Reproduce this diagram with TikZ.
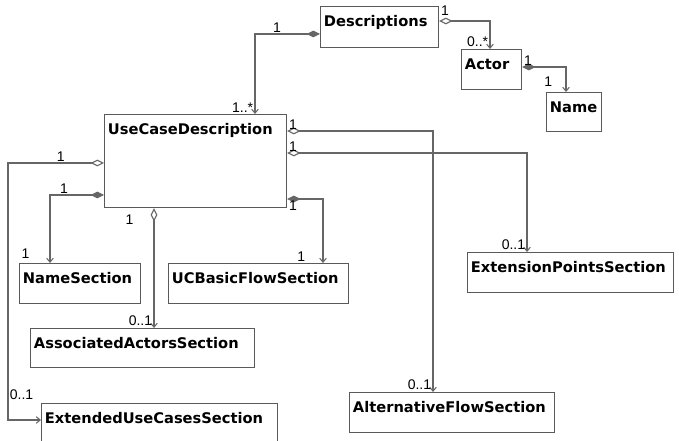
\documentclass[tikz,border=0pt]{standalone}
\usepackage{fontspec}
\usetikzlibrary{positioning, arrows.meta, calc}
\newfontfamily\umlfont{DejaVu Sans}
\newfontfamily\multfont{Liberation Sans}
\definecolor{boxgray}{HTML}{5A5A5A}
\definecolor{linegray}{HTML}{666666}

\begin{document}
\begin{tikzpicture}[
    x=0.75pt, y=-0.75pt,
    cls/.style={
      rectangle, draw=boxgray, line width=0.9pt,
      fill=white, anchor=north west, align=left,
      inner xsep=2.5pt, inner ysep=3pt, text height=12pt,
      font=\umlfont\bfseries\fontsize{11}{13}\selectfont
    },
    mult/.style={
      inner sep=1pt, font=\multfont\fontsize{10.5}{12}\selectfont
    },
    comp/.style={
      draw=linegray, line width=0.8pt,
      {Diamond[length=10pt, width=5pt]}-{Straight Barb[length=3pt, width=5pt]}
    },
    agg/.style={
      draw=linegray, line width=0.8pt,
      {Diamond[open, length=10pt, width=5pt, fill=white]}-{Straight Barb[length=3pt, width=5pt]}
    }
  ]
  \useasboundingbox (0,0) rectangle (679,441);
  % Klassen
  \node[cls, text width=83.5pt, text depth=12.75pt] (desc) at (320,6) {Descriptions};
  \node[cls, text width=40pt, text depth=12pt] (actor) at (461,49) {Actor};
  \node[cls, text width=36.25pt, text depth=11.25pt] (name) at (546,92) {Name};
  \node[cls, text width=131.5pt, text depth=51.75pt] (ucd) at (104,114) {UseCaseDescription};
  \node[cls, text width=85.75pt, text depth=12pt] (nsec) at (19,263) {NameSection};
  \node[cls, text width=130pt, text depth=12pt] (ucb) at (168,263) {UCBasicFlowSection};
  \node[cls, text width=149.5pt, text depth=12pt] (eps) at (467,252) {ExtensionPointsSection};
  \node[cls, text width=163pt, text depth=11.25pt] (aas) at (30,328) {AssociatedActorsSection};
  \node[cls, text width=148.75pt, text depth=12pt] (alt) at (349,392) {AlternativeFlowSection};
  \node[cls, text width=172pt, text depth=16pt] (ext) at (41,403) {ExtendedUseCasesSection};
  % Descriptions
  \draw[comp] ($(desc.north west)+(0,28)$) -| ($(ucd.north west)+(151,0)$)
    node[mult, pos=0.33, above] {1}
    node[mult, pos=1, above left] {1..*};
  \draw[agg] ($(desc.north east)+(0,15)$) -| ($(actor.north west)+(29,0)$)
    node[mult, pos=0, above right, yshift=3pt] {1}
    node[mult, pos=1, above left] {0..*};
  \draw[comp] ($(actor.north east)+(0,18)$) -| ($(name.north west)+(20,0)$)
    node[mult, pos=0, above right] {1}
    node[mult, pos=0.8, left=9pt] {1};
  % UseCaseDescription
  \draw[agg] ($(ucd.north west)+(0,49)$) -- node[mult, pos=0.45, above] {1} ++(-96,0)
    |- ($(ext.north west)+(0,17)$) node[mult, pos=0.45, right] {0..1};
  \draw[comp] ($(ucd.north west)+(0,81)$) -| ($(nsec.north west)+(31,0)$)
    node[mult, pos=0.37, above] {1}
    node[mult, pos=0.93, left=14pt] {1};
  \draw[agg] ($(ucd.south west)+(50,0)$) -- ($(aas.north west)+(124,0)$)
    node[mult, pos=0.1, left=14pt] {1}
    node[mult, pos=1, above left] {0..1};
  \draw[agg] ($(ucd.north east)+(0,17)$) -| ($(alt.north west)+(84,0)$)
    node[mult, pos=0, above right] {1}
    node[mult, pos=1, above left] {0..1};
  \draw[agg] ($(ucd.north east)+(0,39)$) -| ($(eps.north west)+(60,0)$)
    node[mult, pos=0, above right] {1}
    node[mult, pos=1, above left] {0..1};
  \draw[comp] ($(ucd.north east)+(0,85)$) -| ($(ucb.north west)+(155,0)$)
    node[mult, pos=0, below right] {1}
    node[mult, pos=1, above left, xshift=-12pt] {1};
\end{tikzpicture}
\end{document}
